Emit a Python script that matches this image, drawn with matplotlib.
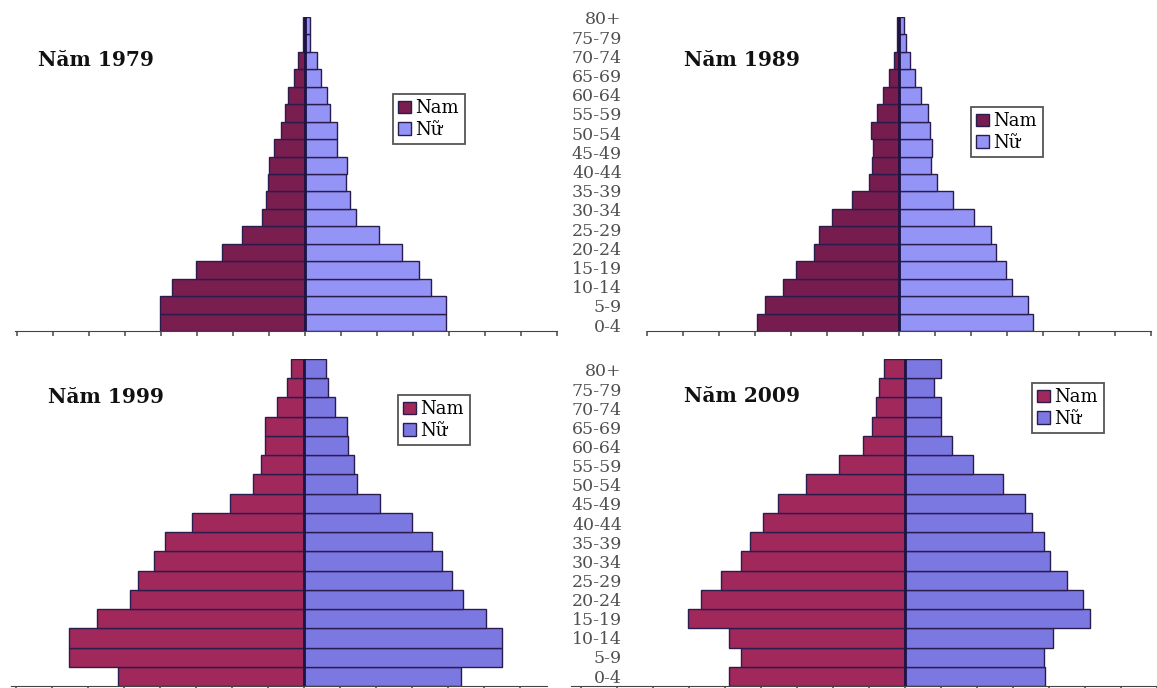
import matplotlib.pyplot as plt
import numpy as np

# age groups (bottom -> top)
ages = ['0-4', '5-9', '10-14', '15-19', '20-24', '25-29', '30-34', '35-39',
        '40-44', '45-49', '50-54', '55-59', '60-64', '65-69', '70-74', '75-79', '80+']

# values (units = one tick), bottom -> top
nam_1979 = [4.03, 4.03, 3.69, 3.03, 2.31, 1.74, 1.18, 1.08, 1.03, 1.00, 0.85, 0.67, 0.54, 0.48, 0.29, 0.20, 0.05, 0.05]
nu_1979 = [3.92, 3.92, 3.49, 3.16, 2.69, 2.05, 1.41, 1.26, 1.13, 1.18, 0.89, 0.89, 0.69, 0.62, 0.44, 0.33, 0.15, 0.15]

nam_1989 = [3.95, 3.72, 3.21, 2.85, 2.36, 2.23, 1.87, 1.30, 0.83, 0.76, 0.71, 0.77, 0.62, 0.45, 0.27, 0.14, 0.05, 0.05]
nu_1989 = [3.72, 3.59, 3.14, 2.97, 2.69, 2.55, 2.09, 1.49, 1.06, 0.90, 0.93, 0.85, 0.80, 0.62, 0.45, 0.30, 0.19, 0.15]

nam_1999 = [5.18, 6.53, 6.53, 5.77, 4.85, 4.62, 4.17, 3.88, 3.13, 2.05, 1.41, 1.20, 1.08, 1.08, 0.75, 0.48, 0.36]
nu_1999 = [4.36, 5.51, 5.51, 5.06, 4.41, 4.10, 3.82, 3.54, 2.99, 2.10, 1.47, 1.38, 1.23, 1.18, 0.87, 0.65, 0.62]

nam_2009 = [4.88, 4.56, 4.88, 6.02, 5.66, 5.10, 4.56, 4.32, 3.95, 3.52, 2.74, 1.84, 1.17, 0.92, 0.82, 0.71, 0.58]
nu_2009 = [3.90, 3.85, 4.11, 5.15, 4.94, 4.51, 4.03, 3.85, 3.52, 3.32, 2.73, 1.89, 1.30, 0.99, 0.99, 0.80, 0.99]

W, H = 1157, 688
fig = plt.figure(figsize=(W / 100, H / 100), dpi=100)
fig.patch.set_facecolor('white')

edge = '#2a1c4c'
serif = ['DejaVu Serif']


def px_axes(x0, y0, x1, y1):
    return fig.add_axes([x0 / W, 1 - y1 / H, (x1 - x0) / W, (y1 - y0) / H])


def pyramid(ax, nam, nu, xlim, male_c, female_c, title, title_xy, leg_xy):
    y = np.arange(len(nam))
    b1 = ax.barh(y, -np.array(nam), height=1, color=male_c, edgecolor=edge, lw=1, label='Nam')
    b2 = ax.barh(y, nu, height=1, color=female_c, edgecolor=edge, lw=1, label='Nữ')
    ax.axvline(0, color='#1c1445', lw=2)
    ax.set_xlim(xlim)
    ax.set_ylim(-0.5, len(nam) - 0.5)
    ax.set_xticks(np.arange(np.ceil(xlim[0]), np.floor(xlim[1]) + 1))
    ax.tick_params(axis='x', direction='out', length=3.5, width=1.2, color='#555', labelbottom=False)
    ax.set_yticks([])
    for s in ['top', 'right', 'left']:
        ax.spines[s].set_visible(False)
    ax.spines['bottom'].set_color('#444')
    ax.patch.set_alpha(0)
    fig.text(title_xy[0] / W, 1 - title_xy[1] / H, title, ha='center', va='center',
             family=serif, weight='bold', size=14.5, color='#111')
    ax.legend(handles=[b1, b2], loc='upper left',
              bbox_to_anchor=(leg_xy[0] / W, 1 - leg_xy[1] / H), bbox_transform=fig.transFigure,
              prop={'family': serif, 'size': 13}, fancybox=False, framealpha=1,
              edgecolor='#555', borderpad=0.3, handlelength=0.7, handleheight=0.7,
              handletextpad=0.25, labelspacing=0.2, borderaxespad=0)
    ax.get_legend().get_frame().set_linewidth(1.3)


ax1 = px_axes(15, 17, 557, 331)
pyramid(ax1, nam_1979, nu_1979, (-8.05, 7.0), '#7a1d4f', '#9494f6', 'Năm 1979', (96, 60), (393, 94))

ax2 = px_axes(647, 17, 1151, 331)
pyramid(ax2, nam_1989, nu_1989, (-7.0, 7.0), '#761c4e', '#9494f6', 'Năm 1989', (742, 60), (971, 107))

ax3 = px_axes(11, 359, 547, 686)
pyramid(ax3, nam_1999, nu_1999, (-8.15, 6.75), '#a1285b', '#7b78e2', 'Năm 1999', (106, 397), (398, 395))

ax4 = px_axes(571, 359, 1157, 686)
pyramid(ax4, nam_2009, nu_2009, (-9.28, 7.0), '#a1285b', '#7b78e2', 'Năm 2009', (742, 396), (1032, 383))

# age label columns
for y0, y1 in [(10.4, 336.6), (362.4, 687.6)]:
    axl = px_axes(540, y0, 622, y1)
    axl.set_ylim(-0.5, len(ages) - 0.5)
    axl.axis('off')
    for i, lab in enumerate(ages):
        axl.text(1.0, i, lab, transform=axl.get_yaxis_transform(), ha='right', va='center',
                 family=serif, size=12.5, color='#505050')

fig.savefig('out.png', dpi=100, facecolor='white')
